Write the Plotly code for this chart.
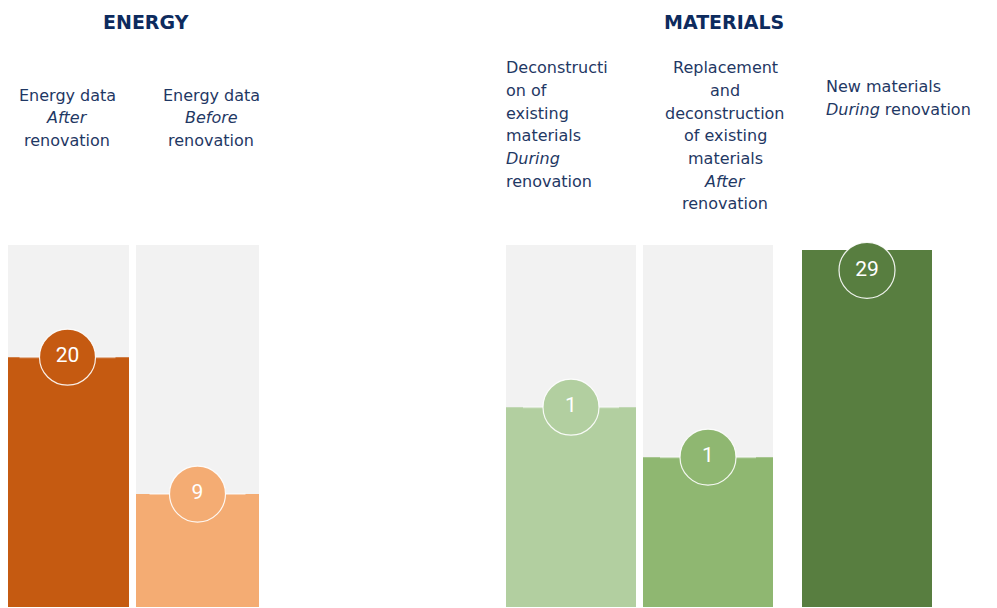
import plotly.graph_objects as go

# ---------------- data ----------------
group_titles = ["ENERGY", "MATERIALS"]
categories = [
    "Energy data After renovation",
    "Energy data Before renovation",
    "Deconstruction of existing materials During renovation",
    "Replacement and deconstruction of existing materials After renovation",
    "New materials During renovation",
]
values = [20, 9, 1, 1, 29]
fill_share = [0.69, 0.312, 0.552, 0.414, 0.986]
label_lines = [
    ["Energy data", "<i>After</i>", "renovation"],
    ["Energy data", "<i>Before</i>", "renovation"],
    ["Deconstructi", "on of", "existing", "materials", "<i>During</i>", "renovation"],
    ["Replacement", "and", "deconstruction", "of existing", "materials", "<i>After</i>", "renovation"],
    ["New materials", "<i>During</i> renovation"],
]

# ---------------- layout / style ----------------
PAGE_W, PAGE_H = 997, 608
OFF = 8                      # default page margin around the plot div
W, H = PAGE_W - OFF, PAGE_H - OFF
X_CENTER = [67.5, 197.5, 571, 708, 867]     # page pixels
BAR_W = [123, 123, 130, 130, 130]
HAS_TRACK = [True, True, True, True, False]
FILL_COLORS = ["#C55A11", "#F4AC73", "#B2CFA0", "#8FB771", "#587E40"]
TRACK_COLOR = "#F2F2F2"
TEXT_COLOR = "#1F3864"
TITLE_COLOR = "#0D2B5E"
LABEL_ALIGN = ["center", "center", "left", "center", "left"]
LABEL_X = [67, 211, 504, 725, 824]
LABEL_TOP = [95, 95, 68, 68, 87]   # page pixel y of first line centre
LINE_STEP = 22.6
TITLE_X = [145.5, 724]
TITLE_Y = 22
LABEL_CAP = 0.93  # keep circle label inside the chart

# y axis: value 0 at page pixel 607, value 1 at page pixel 245
PX0, PX1 = 607, 245
k = PX0 - PX1
ymax = (PX0 - OFF) / k
ymin = ymax - H / k


def paper_y(py):
    return 1 - (py - OFF) / H


fig = go.Figure()

tx = [x for x, t in zip(X_CENTER, HAS_TRACK) if t]
tw = [w for w, t in zip(BAR_W, HAS_TRACK) if t]
fig.add_trace(go.Bar(x=tx, y=[1] * len(tx), width=tw,
                     marker=dict(color=TRACK_COLOR, line=dict(width=0)),
                     hoverinfo="skip"))
fig.add_trace(go.Bar(x=X_CENTER, y=fill_share, width=BAR_W,
                     marker=dict(color=FILL_COLORS, line=dict(width=0)),
                     customdata=categories, hovertemplate="%{customdata}<extra></extra>"))

# faint highlight line at the top of each fill
for xc, s, c in zip(X_CENTER, fill_share, HAS_TRACK):
    if not c:
        continue
    fig.add_trace(go.Scatter(x=[xc - 48, xc + 48], y=[s, s], mode="lines",
                             line=dict(color="rgba(255,255,255,0.45)", width=2),
                             hoverinfo="skip"))

label_y = [min(s, LABEL_CAP) for s in fill_share]
fig.add_trace(go.Scatter(
    x=X_CENTER, y=label_y, mode="markers+text",
    marker=dict(size=56, color=FILL_COLORS, line=dict(color="rgba(255,255,255,0.9)", width=1.2)),
    text=[str(v) for v in values], textposition="middle center",
    textfont=dict(family="Roboto", size=21, color="white"),
    hoverinfo="skip"))

annotations = []
for t, x in zip(group_titles, TITLE_X):
    annotations.append(dict(x=x, y=paper_y(TITLE_Y), xref="x", yref="paper",
                            text=f"<b>{t}</b>", showarrow=False,
                            xanchor="center", yanchor="middle",
                            font=dict(family="DejaVu Sans", size=19, color=TITLE_COLOR)))
for lines, al, x, top in zip(label_lines, LABEL_ALIGN, LABEL_X, LABEL_TOP):
    for i, ln in enumerate(lines):
        py = top + i * LINE_STEP
        annotations.append(dict(x=x, y=paper_y(py), xref="x", yref="paper",
                                text=ln, showarrow=False,
                                xanchor=al, yanchor="middle", align=al,
                                font=dict(family="DejaVu Sans", size=16, color=TEXT_COLOR)))

fig.update_layout(
    width=W, height=H,
    margin=dict(l=0, r=0, t=0, b=0),
    paper_bgcolor="white", plot_bgcolor="white",
    barmode="overlay", showlegend=False,
    xaxis=dict(range=[OFF, PAGE_W], visible=False, fixedrange=True),
    yaxis=dict(range=[ymin, ymax], visible=False, fixedrange=True),
    annotations=annotations,
)

fig.write_html("out.html", config={"displayModeBar": False})
